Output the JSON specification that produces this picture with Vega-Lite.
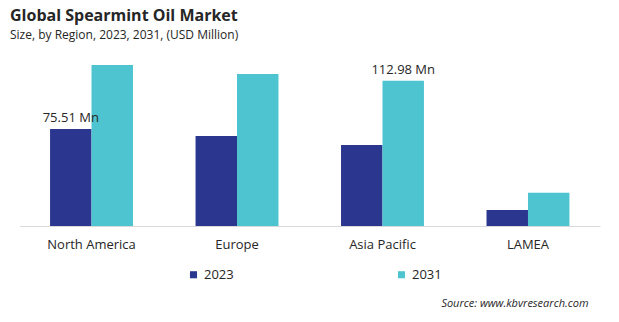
{
  "$schema": "https://vega.github.io/schema/vega-lite/v6.json",
  "autosize": "none",
  "width": 580.5,
  "height": 167,
  "padding": {"left": 19.5, "top": 59, "right": 19, "bottom": 96},
  "background": "white",
  "config": {"view": {"stroke": null}},
  "title": {
    "text": "Global Spearmint Oil Market",
    "subtitle": "Size, by Region, 2023, 2031, (USD Million)",
    "anchor": "start",
    "frame": "group",
    "dx": -9.5,
    "offset": 7,
    "font": "Open Sans",
    "fontSize": 16,
    "fontWeight": "bold",
    "color": "#262626",
    "subtitleFont": "Open Sans",
    "subtitleFontSize": 12,
    "subtitleColor": "#262626",
    "subtitlePadding": 6
  },
  "data": {
    "values": [
      {"region": "North America", "year": "2023", "value": 75.51, "label": "75.51  Mn"},
      {"region": "North America", "year": "2031", "value": 125.4, "label": ""},
      {"region": "Europe", "year": "2023", "value": 70.1, "label": ""},
      {"region": "Europe", "year": "2031", "value": 118.4, "label": ""},
      {"region": "Asia Pacific", "year": "2023", "value": 63.1, "label": ""},
      {"region": "Asia Pacific", "year": "2031", "value": 112.98, "label": "112.98  Mn"},
      {"region": "LAMEA", "year": "2023", "value": 12.5, "label": ""},
      {"region": "LAMEA", "year": "2031", "value": 25.9, "label": ""}
    ]
  },
  "encoding": {
    "x": {
      "field": "region",
      "type": "nominal",
      "sort": ["North America", "Europe", "Asia Pacific", "LAMEA"],
      "scale": {"paddingInner": 0.43, "paddingOuter": 0.21},
      "axis": {
        "title": "Source: www.kbvresearch.com",
        "titleFont": "Open Sans",
        "titleFontStyle": "italic",
        "titleFontWeight": "normal",
        "titleFontSize": 11,
        "titleColor": "#262626",
        "titleAlign": "right",
        "titleAnchor": null,
        "titleX": 568.5,
        "titleY": 77,
        "titleBaseline": "middle",
        "labelAngle": 0,
        "labelFont": "Open Sans",
        "labelFontSize": 13,
        "labelColor": "#262626",
        "labelPadding": 12,
        "ticks": false,
        "domainColor": "#d9d9d9",
        "domainWidth": 1
      }
    },
    "xOffset": {"field": "year", "type": "nominal", "scale": {"paddingInner": 0, "paddingOuter": 0}},
    "y": {
      "field": "value",
      "type": "quantitative",
      "scale": {"domain": [0, 130]},
      "axis": null
    }
  },
  "layer": [
    {
      "mark": {"type": "bar"},
      "encoding": {
        "color": {
          "field": "year",
          "type": "nominal",
          "scale": {"domain": ["2023", "2031"], "range": ["#2B368E", "#4EC4D0"]},
          "legend": {
            "title": null,
            "orient": "none",
            "legendX": 167.5,
            "legendY": 209,
            "direction": "horizontal",
            "columns": 2,
            "columnPadding": 161,
            "symbolType": "square",
            "symbolSize": 50,
            "symbolStrokeWidth": 0,
            "labelFont": "Open Sans",
            "labelFontSize": 13,
            "labelColor": "#262626",
            "labelOffset": 4
          }
        }
      }
    },
    {
      "mark": {"type": "text", "baseline": "alphabetic", "dy": -7, "font": "Open Sans", "fontSize": 13, "color": "#262626"},
      "encoding": {
        "text": {"field": "label"}
      }
    }
  ]
}
